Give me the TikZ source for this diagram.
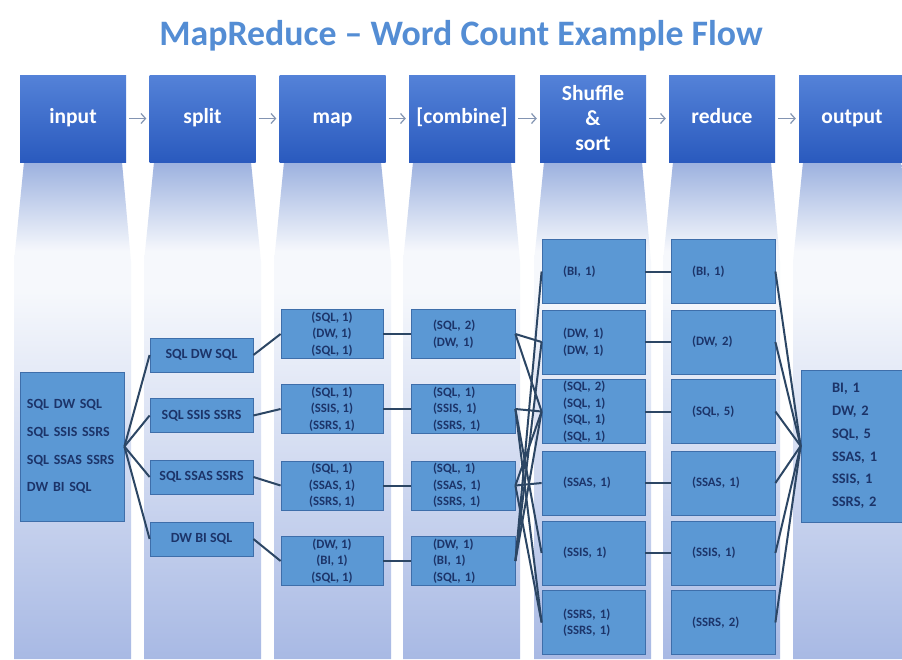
\documentclass[tikz,border=0pt]{standalone}
\usepackage{fontspec}
\setmainfont{Carlito}
\usetikzlibrary{arrows.meta}
\definecolor{titleblue}{RGB}{84,141,212}
\definecolor{headtop}{RGB}{84,130,216}
\definecolor{headbot}{RGB}{42,90,190}
\definecolor{boxfill}{RGB}{91,152,212}
\definecolor{boxline}{RGB}{62,110,170}
\definecolor{boxtext}{RGB}{28,52,105}
\definecolor{wirecol}{RGB}{44,70,100}
\definecolor{arrowgray}{RGB}{130,148,178}
\definecolor{coltop}{RGB}{156,177,223}
\definecolor{colmid}{RGB}{246,248,252}
\definecolor{colbot}{RGB}{168,185,228}
\pgfdeclareverticalshading{colshade}{100bp}{color(0bp)=(colbot); color(25bp)=(colbot); color(62bp)=(colmid); color(66bp)=(colmid); color(75bp)=(coltop); color(100bp)=(coltop)}
\begin{document}
\begin{tikzpicture}[x=1pt, y=-1pt,
        head/.style={minimum width=106pt, minimum height=87pt, inner sep=0pt, top color=headtop, bottom color=headbot, text=white, align=center, font=\fontsize{21.5}{25}\selectfont\bfseries},
        headone/.style={head, text height=15pt, text depth=5pt},
        band/.style={shading=colshade},
        flow/.style={-{Straight Barb[length=4.5pt, width=10pt]}, draw=arrowgray, line width=1.2pt, shorten >=3pt, shorten <=3pt},
        cell/.style={draw=boxline, fill=boxfill, text=boxtext, line width=0.8pt, inner sep=0pt},
        splitbox/.style={cell, minimum width=103pt, minimum height=34pt, font=\fontsize{14}{17}\selectfont\bfseries},
        mapbox/.style={cell, minimum width=102pt, minimum height=49pt, align=center, font=\fontsize{12.8}{16.5}\selectfont\bfseries},
        combbox/.style={cell, text width=60pt, inner xsep=22pt, minimum height=49pt, align=left, font=\fontsize{12.8}{16.5}\selectfont\bfseries},
        shufbox/.style={cell, text width=61pt, inner xsep=21pt, minimum height=64pt, align=left, font=\fontsize{12.8}{16.5}\selectfont\bfseries},
        redbox/.style={cell, text width=62pt, inner xsep=21pt, minimum height=64pt, align=left, font=\fontsize{12.8}{16.5}\selectfont\bfseries},
        link/.style={draw=wirecol, line width=2pt}]
        \useasboundingbox (0, 0) rectangle (902, 659);
        \fill[white] (0, 0) rectangle (902, 659);
        \shade[band] (24, 162) -- (122, 162) -- (131, 262) -- (131, 659) -- (14, 659) -- (14, 262) -- cycle;
        \shade[band] (154, 162) -- (251, 162) -- (261, 262) -- (261, 659) -- (144, 659) -- (144, 262) -- cycle;
        \shade[band] (284, 162) -- (381, 162) -- (391, 262) -- (391, 659) -- (274, 659) -- (274, 262) -- cycle;
        \shade[band] (413, 162) -- (511, 162) -- (520, 262) -- (520, 659) -- (403, 659) -- (403, 262) -- cycle;
        \shade[band] (544, 162) -- (642, 162) -- (651, 262) -- (651, 659) -- (534, 659) -- (534, 262) -- cycle;
        \shade[band] (673, 162) -- (771, 162) -- (780, 262) -- (780, 659) -- (663, 659) -- (663, 262) -- cycle;
        \shade[band] (803, 162) -- (901, 162) -- (910, 262) -- (910, 659) -- (793, 659) -- (793, 262) -- cycle;
        \node[anchor=base, text=titleblue, font=\fontsize{35.8}{40}\selectfont\bfseries] (title) at (461, 45) {MapReduce -- Word Count Example Flow};
        \node[headone] (hin) at (73, 118.5) {input};
        \node[headone] (hsplit) at (202.5, 118.5) {split};
        \node[headone] (hmap) at (332.5, 118.5) {map};
        \node[headone] (hcomb) at (462, 118.5) {[combine]};
        \node[head] (hshuf) at (593, 118.5) {Shuffle\\\&\\sort};
        \node[headone] (hred) at (722, 118.5) {reduce};
        \node[headone] (hout) at (852, 118.5) {output};
        \draw[flow] (hin) -- (hsplit);
        \draw[flow] (hsplit) -- (hmap);
        \draw[flow] (hmap) -- (hcomb);
        \draw[flow] (hcomb) -- (hshuf);
        \draw[flow] (hshuf) -- (hred);
        \draw[flow] (hred) -- (hout);
        \node[cell, text width=90pt, inner xsep=7pt, minimum height=149pt, align=left, font=\fontsize{14}{27.7}\selectfont\bfseries] (in) at (72, 446.5) {SQL DW SQL\\SQL SSIS SSRS\\SQL SSAS SSRS\\DW BI SQL};
        \node[splitbox] (s1) at (201.5, 355) {SQL DW SQL};
        \node[splitbox] (s2) at (201.5, 415.5) {SQL SSIS SSRS};
        \node[splitbox] (s3) at (201.5, 477) {SQL SSAS SSRS};
        \node[splitbox] (s4) at (201.5, 539) {DW BI SQL};
        \node[mapbox] (m1) at (332, 334) {(SQL, 1)\\(DW, 1)\\(SQL, 1)};
        \node[mapbox] (m2) at (332, 409) {(SQL, 1)\\(SSIS, 1)\\(SSRS, 1)};
        \node[mapbox] (m3) at (332, 485.5) {(SQL, 1)\\(SSAS, 1)\\(SSRS, 1)};
        \node[mapbox] (m4) at (332, 561) {(DW, 1)\\(BI, 1)\\(SQL, 1)};
        \node[combbox] (c1) at (463, 334) {(SQL, 2)\\(DW, 1)};
        \node[combbox] (c2) at (463, 409) {(SQL, 1)\\(SSIS, 1)\\(SSRS, 1)};
        \node[combbox] (c3) at (463, 485.5) {(SQL, 1)\\(SSAS, 1)\\(SSRS, 1)};
        \node[combbox] (c4) at (463, 561) {(DW, 1)\\(BI, 1)\\(SQL, 1)};
        \node[shufbox] (shbi) at (593.5, 271.5) {(BI, 1)};
        \node[shufbox] (shdw) at (593.5, 342) {(DW, 1)\\(DW, 1)};
        \node[shufbox] (shsql) at (593.5, 411.5) {(SQL, 2)\\(SQL, 1)\\(SQL, 1)\\(SQL, 1)};
        \node[shufbox] (shssas) at (593.5, 483) {(SSAS, 1)};
        \node[shufbox] (shssis) at (593.5, 553) {(SSIS, 1)};
        \node[shufbox] (shssrs) at (593.5, 622.5) {(SSRS, 1)\\(SSRS, 1)};
        \node[redbox] (rdbi) at (723, 271.5) {(BI, 1)};
        \node[redbox] (rddw) at (723, 342) {(DW, 2)};
        \node[redbox] (rdsql) at (723, 411.5) {(SQL, 5)};
        \node[redbox] (rdssas) at (723, 483) {(SSAS, 1)};
        \node[redbox] (rdssis) at (723, 553) {(SSIS, 1)};
        \node[redbox] (rdssrs) at (723, 622.5) {(SSRS, 2)};
        \node[cell, text width=60pt, inner xsep=31pt, minimum height=152pt, align=left, font=\fontsize{14.5}{22.8}\selectfont\bfseries] (out) at (862, 446) {BI, 1\\DW, 2\\SQL, 5\\SSAS, 1\\SSIS, 1\\SSRS, 2};
        \draw[link] (in.east) -- (s1.west);
        \draw[link] (in.east) -- (s2.west);
        \draw[link] (in.east) -- (s3.west);
        \draw[link] (in.east) -- (s4.west);
        \draw[link] (s1.east) -- (m1.west);
        \draw[link] (s2.east) -- (m2.west);
        \draw[link] (s3.east) -- (m3.west);
        \draw[link] (s4.east) -- (m4.west);
        \draw[link] (m1.east) -- (c1.west);
        \draw[link] (m2.east) -- (c2.west);
        \draw[link] (m3.east) -- (c3.west);
        \draw[link] (m4.east) -- (c4.west);
        \draw[link] (c1.east) -- (shdw.west);
        \draw[link] (c1.east) -- (shsql.west);
        \draw[link] (c2.east) -- (shsql.west);
        \draw[link] (c2.east) -- (shssis.west);
        \draw[link] (c2.east) -- (shssrs.west);
        \draw[link] (c3.east) -- (shsql.west);
        \draw[link] (c3.east) -- (shssas.west);
        \draw[link] (c3.east) -- (shssrs.west);
        \draw[link] (c4.east) -- (shdw.west);
        \draw[link] (c4.east) -- (shbi.west);
        \draw[link] (c4.east) -- (shsql.west);
        \draw[link] (shbi.east) -- (rdbi.west);
        \draw[link] (shdw.east) -- (rddw.west);
        \draw[link] (shsql.east) -- (rdsql.west);
        \draw[link] (shssas.east) -- (rdssas.west);
        \draw[link] (shssis.east) -- (rdssis.west);
        \draw[link] (rdbi.east) -- (out.west);
        \draw[link] (rddw.east) -- (out.west);
        \draw[link] (rdsql.east) -- (out.west);
        \draw[link] (rdssas.east) -- (out.west);
        \draw[link] (rdssis.east) -- (out.west);
        \draw[link] (rdssrs.east) -- (out.west);
\end{tikzpicture}
\end{document}
